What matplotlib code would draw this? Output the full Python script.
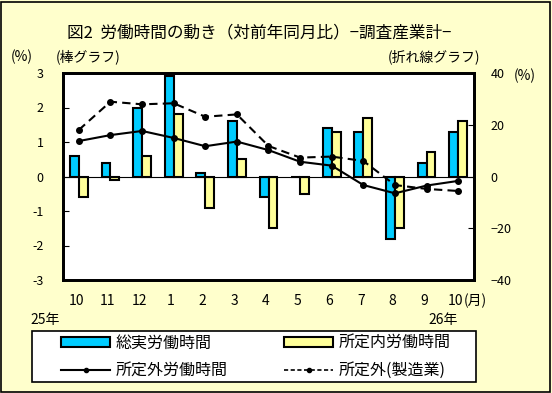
import numpy as np
import matplotlib
matplotlib.use("Agg")
import matplotlib.pyplot as plt
from matplotlib.patches import Patch, Rectangle
from matplotlib.lines import Line2D

plt.rcParams['font.family'] = ['Noto Sans CJK JP', 'DejaVu Sans']

months = ['10', '11', '12', '1', '2', '3', '4', '5', '6', '7', '8', '9', '10']
total_hours = [0.6, 0.4, 2.0, 2.9, 0.1, 1.6, -0.6, 0.0, 1.4, 1.3, -1.8, 0.4, 1.3]
scheduled_hours = [-0.6, -0.1, 0.6, 1.8, -0.9, 0.5, -1.5, -0.5, 1.3, 1.7, -1.5, 0.7, 1.6]
overtime = [13.7, 16.0, 17.6, 14.9, 11.7, 13.5, 10.2, 5.7, 4.2, -3.3, -6.5, -3.5, -1.7]
overtime_mfg = [18.0, 28.9, 27.9, 28.3, 23.1, 24.0, 11.8, 7.3, 7.7, 6.0, -3.3, -4.8, -5.6]

W, H = 552, 393
fig = plt.figure(figsize=(W / 100, H / 100), dpi=100, facecolor='#FFFFCC')
fig.add_artist(Rectangle((1 / W, 1 / H), 1 - 3 / W, 1 - 3 / H, transform=fig.transFigure,
                         fill=False, edgecolor='black', linewidth=1.2))

def px(x0, y0, x1, y1):
    return [x0 / W, 1 - y1 / H, (x1 - x0) / W, (y1 - y0) / H]

ax = fig.add_axes(px(63, 73, 474, 280))
ax.set_facecolor('white')
x = np.arange(len(months))
bw = 0.28
ax.bar(x - bw / 2, total_hours, bw, color='#00CCFF', edgecolor='black', linewidth=1.5, zorder=2)
ax.bar(x + bw / 2, scheduled_hours, bw, color='#FFFF99', edgecolor='black', linewidth=1.5, zorder=2)
ax.axhline(0, color='black', linewidth=0.8, zorder=3)
ax.set_xlim(-0.5, len(months) - 0.5)
ax.set_ylim(-3, 3)
ax.set_yticks(range(-3, 4))
ax.set_yticklabels([str(v) for v in range(-3, 4)], fontsize=9)
ax.tick_params(axis='y', direction='in', length=4, pad=14)
ax.set_xticks(x - 0.08)
ax.set_xticklabels(months, fontsize=10)
ax.tick_params(axis='x', length=0, pad=10)
for s in ax.spines.values():
    s.set_linewidth(2)

ax2 = ax.twinx()
ax2.plot(x, overtime, color='black', linewidth=1.5, marker='o', markersize=4)
ax2.plot(x, overtime_mfg, color='black', linewidth=1.5, linestyle=(0, (4, 2.5)), marker='o', markersize=4)
ax2.set_ylim(-40, 40)
ax2.set_yticks([-40, -20, 0, 20, 40])
ax2.set_yticklabels(['\u221240', '\u221220', '0', '20', '40'], fontsize=9, fontstyle='italic')
ax2.tick_params(axis='y', direction='in', length=4, pad=12)
for s in ax2.spines.values():
    s.set_linewidth(2)

fig.text(67 / W, 1 - 33 / H, '図2  労働時間の動き（対前年同月比）−調査産業計−', fontsize=12,
         ha='left', va='center')
fig.text(22 / W, 1 - 57 / H, '(%)', fontsize=10, ha='center', va='center')
fig.text(56 / W, 1 - 57 / H, '(棒グラフ)', fontsize=10, ha='left', va='center')
fig.text(480 / W, 1 - 57 / H, '(折れ線グラフ)', fontsize=10, ha='right', va='center')
fig.text(525 / W, 1 - 76 / H, '(%)', fontsize=10, ha='center', va='center')
fig.text(464 / W, 1 - 301 / H, '(月)', fontsize=10, ha='left', va='center')
fig.text(45 / W, 1 - 320 / H, '25年', fontsize=10, ha='center', va='center')
fig.text(443 / W, 1 - 320 / H, '26年', fontsize=10, ha='center', va='center')

# legend frame drawn separately
fig.add_artist(Rectangle((32 / W, 1 - 382 / H), 444 / W, 51 / H, transform=fig.transFigure,
                         facecolor='white', edgecolor='black', linewidth=1.2))
handles = [
    Patch(facecolor='#00CCFF', edgecolor='black', linewidth=1.5, label='総実労働時間'),
    Line2D([], [], color='black', linewidth=1.5, marker='o', markersize=3, label='所定外労働時間'),
    Patch(facecolor='#FFFF99', edgecolor='black', linewidth=1.5, label='所定内労働時間'),
    Line2D([], [], color='black', linewidth=1.2, linestyle=(0, (2.5, 1.5)), marker='o', markersize=3,
           label='所定外(製造業)'),
]
leg = fig.legend(handles=handles, ncol=2, loc='center',
                 bbox_to_anchor=(256 / W, 1 - 357 / H),
                 fontsize=11.5, frameon=False,
                 handlelength=3.1, handleheight=0.55, handletextpad=0.35, columnspacing=3.5,
                 borderpad=0, labelspacing=0.65, borderaxespad=0)

fig.savefig('out.png', dpi=100, facecolor=fig.get_facecolor())
